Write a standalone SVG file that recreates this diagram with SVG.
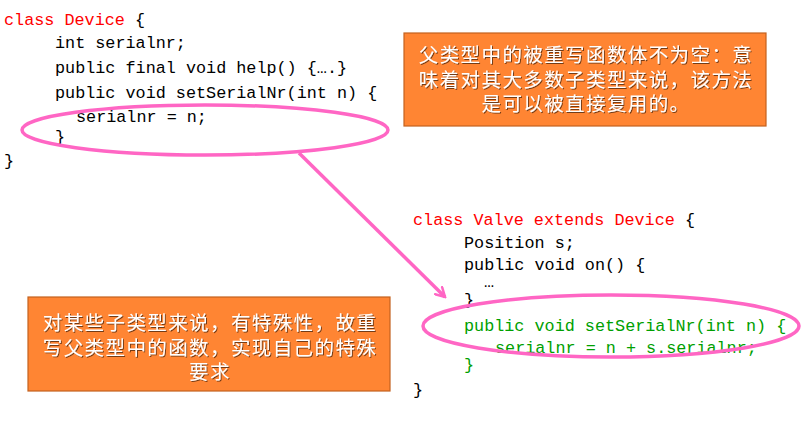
<svg xmlns="http://www.w3.org/2000/svg" width="803" height="438" viewBox="0 0 803 438">
<style>
.code{font-family:"Liberation Mono","DejaVu Sans Mono",monospace;font-size:16.8px;fill:#000}
.red{fill:#FF0000}
.green{fill:#00A000}
.box{fill:#FF8533;stroke:#C4621F;stroke-width:1.2}
.note{font-family:"Noto Sans CJK SC","Noto Sans",sans-serif;font-size:19.5px;letter-spacing:1.4px;fill:#fff;text-anchor:middle;filter:url(#sh)}
.ring{fill:none;stroke:#FF66C4;stroke-width:3.5}
</style>
<defs>
<filter id="sh" x="-5%" y="-20%" width="110%" height="140%">
<feDropShadow dx="1" dy="1" stdDeviation="0.6" flood-color="#000" flood-opacity="0.55"/>
</filter>
<marker id="arr" viewBox="0 0 12 12" refX="10" refY="6" markerWidth="12" markerHeight="12" markerUnits="userSpaceOnUse" orient="auto">
<path d="M1,1 L10,6 L1,11" fill="none" stroke="#FF66C4" stroke-width="2.5" stroke-linecap="round"/>
</marker>
</defs>
<g id="device">
<text class="code" x="4" y="25"><tspan class="red">class Device</tspan> {</text>
<text class="code" x="55" y="48">int serialnr;</text>
<text class="code" x="55" y="73">public final void help() {….}</text>
<text class="code" x="55" y="98">public void setSerialNr(int n) {</text>
<text class="code" x="76" y="122">serialnr = n;</text>
<text class="code" x="55" y="142">}</text>
<text class="code" x="4" y="166">}</text>
</g>
<g id="valve">
<text class="code" x="413" y="225"><tspan class="red">class Valve extends Device</tspan> {</text>
<text class="code" x="464" y="248">Position s;</text>
<text class="code" x="464" y="270">public void on() {</text>
<text class="code" x="484" y="287">…</text>
<text class="code" x="464" y="305">}</text>
<text class="code green" x="464" y="331">public void setSerialNr(int n) {</text>
<text class="code green" x="495" y="353">serialnr = n + s.serialnr;</text>
<text class="code green" x="464" y="370">}</text>
<text class="code" x="413" y="395">}</text>
</g>
<g id="note1">
<rect class="box" x="404" y="33" width="362" height="93"/>
<text class="note" x="586" y="62">父类型中的被重写函数体不为空：意</text>
<text class="note" x="586" y="87">味着对其大多数子类型来说，该方法</text>
<text class="note" x="586" y="111">是可以被直接复用的。</text>
</g>
<g id="note2">
<rect class="box" x="28" y="297" width="362" height="94"/>
<text class="note" x="210" y="330">对某些子类型来说，有特殊性，故重</text>
<text class="note" x="210" y="355">写父类型中的函数，实现自己的特殊</text>
<text class="note" x="210" y="379">要求</text>
</g>
<g id="highlight1">
<ellipse class="ring" cx="205" cy="130" rx="183" ry="25"/>
</g>
<g id="highlight2">
<ellipse class="ring" cx="611" cy="326" rx="188" ry="31"/>
</g>
<g id="connectors">
<line x1="299" y1="153" x2="445" y2="297" stroke="#FF66C4" stroke-width="3.5" marker-end="url(#arr)"/>
</g>
</svg>
